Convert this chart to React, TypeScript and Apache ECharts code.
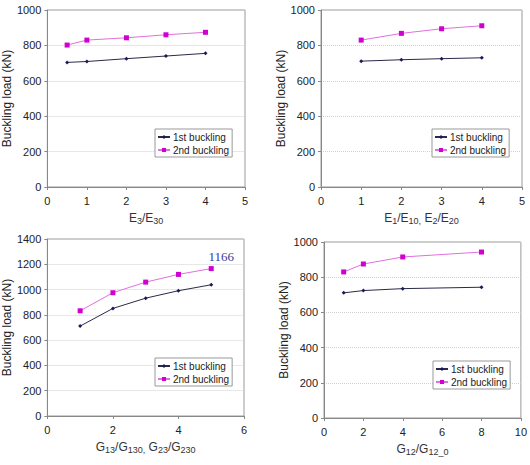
import React, { useEffect, useRef } from "react";
import * as echarts from "echarts";

// Panel (a): E3/E30
const xA = [0.5, 1, 2, 3, 4];
const firstA = [704, 709, 725, 740, 755];
const secondA = [802, 830, 843, 860, 874];
// Panel (b): E1/E10, E2/E20
const xB = [1, 2, 3, 4];
const firstB = [711, 719, 725, 730];
const secondB = [830, 868, 894, 911];
// Panel (c): G13/G130, G23/G230
const xC = [1, 2, 3, 4, 5];
const firstC = [711, 851, 932, 991, 1038];
const secondC = [832, 975, 1059, 1120, 1166];
// Panel (d): G12/G12_0
const xD = [1, 2, 4, 8];
const firstD = [711, 724, 735, 743];
const secondD = [830, 875, 915, 943];

const seriesNames = ["1st buckling", "2nd buckling"];
const yAxisName = "Buckling load (kN)";
const xNames = [
  "E{sub|3}/E{sub|30}",
  "E{sub|1}/E{sub|10,} E{sub|2}/E{sub|20}",
  "G{sub|13}/G{sub|130,} G{sub|23}/G{sub|230}",
  "G{sub|12}/G{sub|12_0}",
];

const FONT = "Liberation Sans, Arial, sans-serif";

export default function App() {
  const ref = useRef<HTMLDivElement>(null);
  useEffect(() => {
    if (!ref.current) return;
    const chart = echarts.init(ref.current, null, { renderer: "svg" });

    const grids = [
      { left: 42, top: 10, width: 203, height: 177 },
      { left: 321, top: 10, width: 201, height: 177 },
      { left: 43, top: 239, width: 201, height: 177 },
      { left: 324, top: 242, width: 198, height: 176 },
    ];
    const xCfg = [
      { max: 5, interval: 1 },
      { max: 5, interval: 1 },
      { max: 6, interval: 2 },
      { max: 10, interval: 2 },
    ];
    const yMax = [1000, 1000, 1400, 1000];
    const legendPos = [
      { left: 155, top: 129 },
      { left: 432, top: 129 },
      { left: 155, top: 358 },
      { left: 433, top: 361 },
    ];
    const data = [
      [xA, firstA, secondA],
      [xB, firstB, secondB],
      [xC, firstC, secondC],
      [xD, firstD, secondD],
    ];

    const series: any[] = [];
    data.forEach(([xs, f, s], i) => {
      series.push({
        name: seriesNames[0] + (i === 0 ? "" : "\u200b".repeat(i)),
        type: "line",
        xAxisIndex: i,
        yAxisIndex: i,
        data: xs.map((x: number, k: number) => [x, f[k]]),
        symbol: "diamond",
        symbolSize: 4,
        lineStyle: { color: "#2a2a4a", width: 1 },
        itemStyle: { color: "#1a1a5a" },
      });
      series.push({
        name: seriesNames[1] + (i === 0 ? "" : "\u200b".repeat(i)),
        type: "line",
        xAxisIndex: i,
        yAxisIndex: i,
        data: xs.map((x: number, k: number) => {
          const pt: any = { value: [x, s[k]] };
          if (i === 2 && k === xs.length - 1) {
            pt.label = {
              show: true,
              position: "top",
              offset: [10, 2],
              formatter: String(s[k]),
              color: "#3a3a9a",
              fontFamily: "Liberation Serif, Times New Roman, serif",
              fontSize: 13,
            };
          }
          return pt;
        }),
        symbol: "rect",
        symbolSize: 5,
        lineStyle: { color: "#e070e0", width: 1 },
        itemStyle: { color: "#d000d0" },
      });
    });

    const option: any = {
      animation: false,
      backgroundColor: "#ffffff",
      grid: grids.map((g) => ({
        ...g,
        show: true,
        borderColor: "#9a9a9a",
        borderWidth: 1,
        backgroundColor: "transparent",
      })),
      legend: legendPos.map((p, i) => ({
        ...p,
        orient: "vertical",
        data: seriesNames.map((n) => n + (i === 0 ? "" : "\u200b".repeat(i))),
        borderColor: "#999",
        borderWidth: 1,
        borderRadius: 0,
        padding: [3, 3, 2, 2],
        itemGap: 3,
        itemWidth: 12,
        itemHeight: 5,
        textStyle: { fontFamily: FONT, fontSize: 10, color: "#222", padding: [0, 0, 0, -2] },
        backgroundColor: "#fff",
      })),
      xAxis: xCfg.map((c, i) => ({
        type: "value",
        gridIndex: i,
        min: 0,
        max: c.max,
        interval: c.interval,
        name: xNames[i],
        nameLocation: "middle",
        nameGap: 23,
        nameTextStyle: {
          fontFamily: FONT,
          fontSize: 12,
          color: "#333",
          rich: {
            sub: { fontFamily: FONT, fontSize: 9, color: "#333", padding: [6, 0, 0, 0] },
          },
        },
        axisLine: { show: true, lineStyle: { color: "#888" } },
        axisTick: { show: true, length: 3, lineStyle: { color: "#888" } },
        axisLabel: { fontFamily: FONT, fontSize: 11, color: "#222", margin: 8 },
        splitLine: { show: false },
      })),
      yAxis: yMax.map((m, i) => ({
        type: "value",
        gridIndex: i,
        min: 0,
        max: m,
        interval: 200,
        name: yAxisName,
        nameLocation: "middle",
        nameGap: 29,
        nameTextStyle: { fontFamily: FONT, fontSize: 12, color: "#222" },
        axisLine: { show: true, lineStyle: { color: "#888" } },
        axisTick: { show: true, length: 3, lineStyle: { color: "#888" } },
        axisLabel: {
          fontFamily: FONT,
          fontSize: 11,
          color: "#222",
          margin: 6,
          formatter: (v: number) => String(v),
        },
        splitLine: { show: true, lineStyle: { color: "#d0d0d0", type: "dotted", width: 1 } },
      })),
      series,
    };
    chart.setOption(option);
    return () => chart.dispose();
  }, []);
  return (
    <div
      ref={ref}
      style={{ position: "fixed", left: 0, top: 0, width: 530, height: 465, background: "#fff" }}
    />
  );
}
